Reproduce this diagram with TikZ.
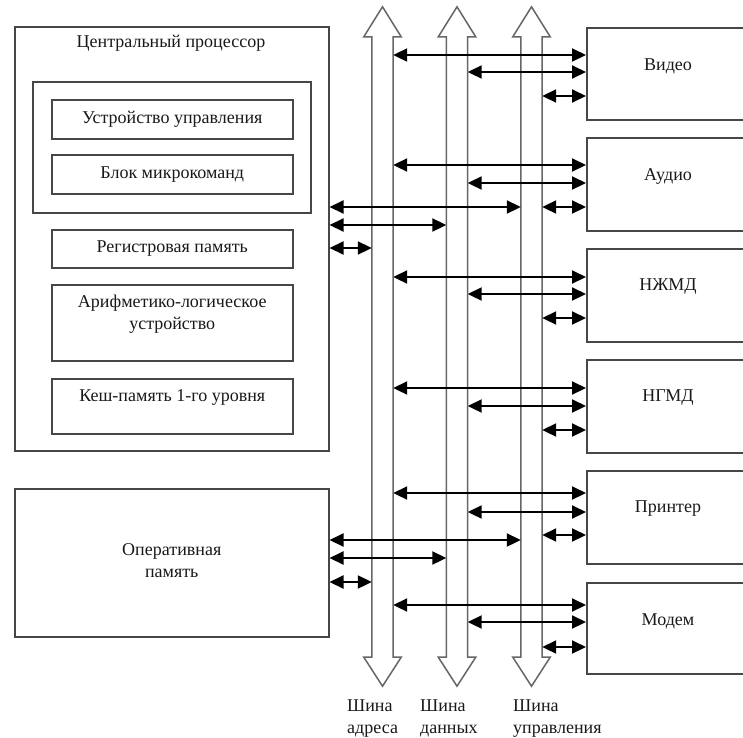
\documentclass[tikz,border=0pt]{standalone}
\usepackage{fontspec}
\setmainfont{Liberation Serif}
\usetikzlibrary{arrows.meta,calc}
\begin{document}
\begin{tikzpicture}[x=1pt,y=-1pt,
  box/.style={draw=black!72, line width=1.5pt, inner sep=0pt, anchor=north west,
    font=\fontsize{18}{22}\selectfont, text=black!90},
  txt/.style={font=\fontsize{18}{22}\selectfont, align=center, inner sep=0pt, text=black!90},
  shaft/.style={draw=none, inner sep=0pt, minimum width=21, minimum height=620},
  busline/.style={draw=black!60, line width=1.5pt, line join=miter},
  biarrow/.style={line width=2pt, draw=black,
    {Triangle[length=14pt,width=13pt]}-{Triangle[length=14pt,width=13pt]}}]
\clip (0,0) rectangle (743,737);
\fill[white] (0,0) rectangle (743,737);

% buses
\foreach \n/\c in {abus/382.5, dbus/457, cbus/531.5} {
  \node[shaft] (\n) at (\c,347) {};
  \draw[busline] (\n.north west) -- ++(-8,0) -- ($(\n.north)+(0,-30)$)
    -- ($(\n.north east)+(8,0)$) -- (\n.north east) -- (\n.south east)
    -- ++(8,0) -- ($(\n.south)+(0,29)$) -- ($(\n.south west)+(-8,0)$)
    -- (\n.south west) -- cycle;
}

% CPU
\node[box, minimum width=314, minimum height=424] (cpu) at (14,26) {};
\node[txt] (cput) at (171,43) {Центральный процессор};
\node[box, minimum width=278, minimum height=131] (inner) at (32,81) {};
\node[box, minimum width=241, minimum height=39] (uu) at (51,99) {Устройство управления};
\node[box, minimum width=241, minimum height=39] (bmk) at (51,154) {Блок микрокоманд};
\node[box, minimum width=241, minimum height=38] (reg) at (51,229) {Регистровая память};
\node[box, minimum width=241, minimum height=76] (alu) at (51,284) {};
\node[txt] (alut) at ($(alu.north)+(0,30)$) {Арифметико-логическое\\устройство};
\node[box, minimum width=241, minimum height=55] (cache) at (51,378) {};
\node[txt] (cachet) at ($(cache.north)+(0,19)$) {Кеш-память 1-го уровня};

% RAM
\node[box, minimum width=314, minimum height=148] (ram) at (14,488) {};
\node[txt] (ramt) at ($(ram.center)+(0,-2)$) {Оперативная\\память};

% devices
\foreach \n/\t/\y/\h in {video/Видео/27/92, audio/Аудио/137/93, hdd/НЖМД/248/93,
    fdd/НГМД/359/93, prn/Принтер/470/93, modem/Модем/582/91} {
  \node[box, minimum width=170, minimum height=\h] (\n) at (586,\y) {};
  \node[txt] (\n t) at ($(\n.north west)+(82,39)$) {\t};
}

% device connections
\foreach \n/\ya/\yd/\yc in {video/55/72/96, audio/165/183/207, hdd/277/294/318,
    fdd/388/406/430, prn/493/512/535, modem/605/622/647} {
  \draw[biarrow] (abus.east |- 0,\ya) -- (\n.west |- 0,\ya);
  \draw[biarrow] (dbus.east |- 0,\yd) -- (\n.west |- 0,\yd);
  \draw[biarrow] (cbus.east |- 0,\yc) -- (\n.west |- 0,\yc);
}

% CPU and RAM connections
\foreach \n/\yc/\yd/\ya in {cpu/207/225/248, ram/540/558/582} {
  \draw[biarrow] (\n.east |- 0,\yc) -- (cbus.west |- 0,\yc);
  \draw[biarrow] (\n.east |- 0,\yd) -- (dbus.west |- 0,\yd);
  \draw[biarrow] (\n.east |- 0,\ya) -- (abus.west |- 0,\ya);
}

% bus labels
\node[txt, align=left, anchor=north west] (la) at (347,699) {Шина\\адреса};
\node[txt, align=left, anchor=north west] (ld) at (420,699) {Шина\\данных};
\node[txt, align=left, anchor=north west] (lc) at (513,699) {Шина\\управления};
\end{tikzpicture}
\end{document}
